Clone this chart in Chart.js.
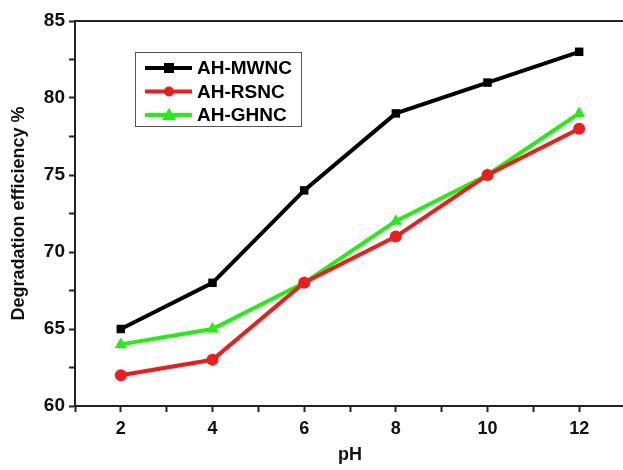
<!DOCTYPE html>
<html>
<head>
<meta charset="utf-8">
<script src="https://cdn.jsdelivr.net/npm/chart.js@4/dist/chart.umd.min.js"></script>
<style>
  html, body { margin: 0; padding: 0; background: #fff; overflow: hidden; }
  #box { width: 640px; height: 470px; }
</style>
</head>
<body>
<div id="box"><canvas id="grafico"></canvas></div>
<script>
const phValues = [2, 4, 6, 8, 10, 12];
const mwnc = [65, 68, 74, 79, 81, 83];
const rsnc = [62, 63, 68, 71, 75, 78];
const ghnc = [64, 65, 68, 72, 75, 79];
const seriesNames = ['AH-MWNC', 'AH-RSNC', 'AH-GHNC'];

const toPoints = arr => arr.map((v, i) => ({ x: phValues[i], y: v }));
const familia = '"Liberation Sans", Arial, sans-serif';

// moldura + legenda dentro do gráfico
const molduraPlugin = {
  id: 'moldura',
  afterDraw(chart) {
    const { ctx, chartArea: a } = chart;
    ctx.save();
    ctx.strokeStyle = '#222';
    ctx.lineWidth = 2;
    ctx.strokeRect(a.left, a.top, a.right - a.left, a.bottom - a.top);

    // legenda
    ctx.lineWidth = 1;
    ctx.strokeStyle = '#555';
    ctx.strokeRect(135.5, 52.5, 166, 74);
    chart.data.datasets.forEach((ds, i) => {
      const y = 68 + i * 23.5;
      ctx.strokeStyle = ds.borderColor;
      ctx.lineWidth = 4;
      ctx.beginPath();
      ctx.moveTo(145, y);
      ctx.lineTo(192, y);
      ctx.stroke();
      ctx.fillStyle = ds.borderColor;
      ctx.beginPath();
      if (ds.pointStyle === 'rect') {
        ctx.rect(164, y - 5, 10, 10);
      } else if (ds.pointStyle === 'circle') {
        ctx.arc(169, y, 5, 0, Math.PI * 2);
      } else {
        ctx.moveTo(169, y - 7);
        ctx.lineTo(176, y + 5);
        ctx.lineTo(162, y + 5);
        ctx.closePath();
      }
      ctx.fill();
      ctx.fillStyle = '#000';
      ctx.font = 'bold 19px ' + familia;
      ctx.textBaseline = 'middle';
      ctx.fillText(ds.label, 197, y + 1);
    });
    ctx.restore();
  }
};

new Chart(document.getElementById('grafico'), {
  type: 'line',
  data: {
    datasets: [
      { label: seriesNames[0], data: toPoints(mwnc), borderColor: '#000000', backgroundColor: '#000000', pointStyle: 'rect', pointRadius: 6 },
      { label: seriesNames[1], data: toPoints(rsnc), borderColor: '#ee1c1c', backgroundColor: '#ee1c1c', pointStyle: 'circle', pointRadius: 6 },
      { label: seriesNames[2], data: toPoints(ghnc), borderColor: '#22ee11', backgroundColor: '#22ee11', pointStyle: 'triangle', pointRadius: 7 }
    ].map(d => Object.assign(d, { borderWidth: 4, tension: 0, pointBorderWidth: 0 }))
  },
  options: {
    responsive: true,
    maintainAspectRatio: false,
    animation: false,
    layout: { padding: { top: 21, right: 15, left: 0, bottom: 0 } },
    plugins: { legend: { display: false }, tooltip: { enabled: false } },
    scales: {
      x: {
        type: 'linear',
        min: 1, max: 13,
        afterFit: s => { s.height = 64; },
        ticks: {
          stepSize: 1,
          color: '#111',
          font: { family: familia, size: 18, weight: 'bold' },
          padding: 6,
          maxRotation: 0,
          callback: v => (v % 2 === 0 ? v : '')
        },
        grid: { drawOnChartArea: false, drawTicks: true, tickLength: 6, tickColor: '#222', tickWidth: 2 },
        border: { color: '#222', width: 2 },
        title: { display: true, text: 'pH', color: '#111', font: { family: familia, size: 18, weight: 'bold' }, padding: { top: 14 } }
      },
      y: {
        min: 60, max: 85,
        afterFit: s => { s.width = 75; },
        ticks: {
          stepSize: 2.5,
          color: '#111',
          font: { family: familia, size: 19, weight: 'bold' },
          padding: 4,
          callback: v => (v % 5 === 0 ? v : '')
        },
        grid: { drawOnChartArea: false, drawTicks: true, tickLength: 6, tickColor: '#222', tickWidth: 2 },
        border: { color: '#222', width: 2 },
        title: { display: true, text: 'Degradation efficiency %', color: '#111', font: { family: familia, size: 18, weight: 'bold' }, padding: { top: 8, bottom: 2 } }
      }
    }
  },
  plugins: [molduraPlugin]
});
</script>
</body>
</html>
